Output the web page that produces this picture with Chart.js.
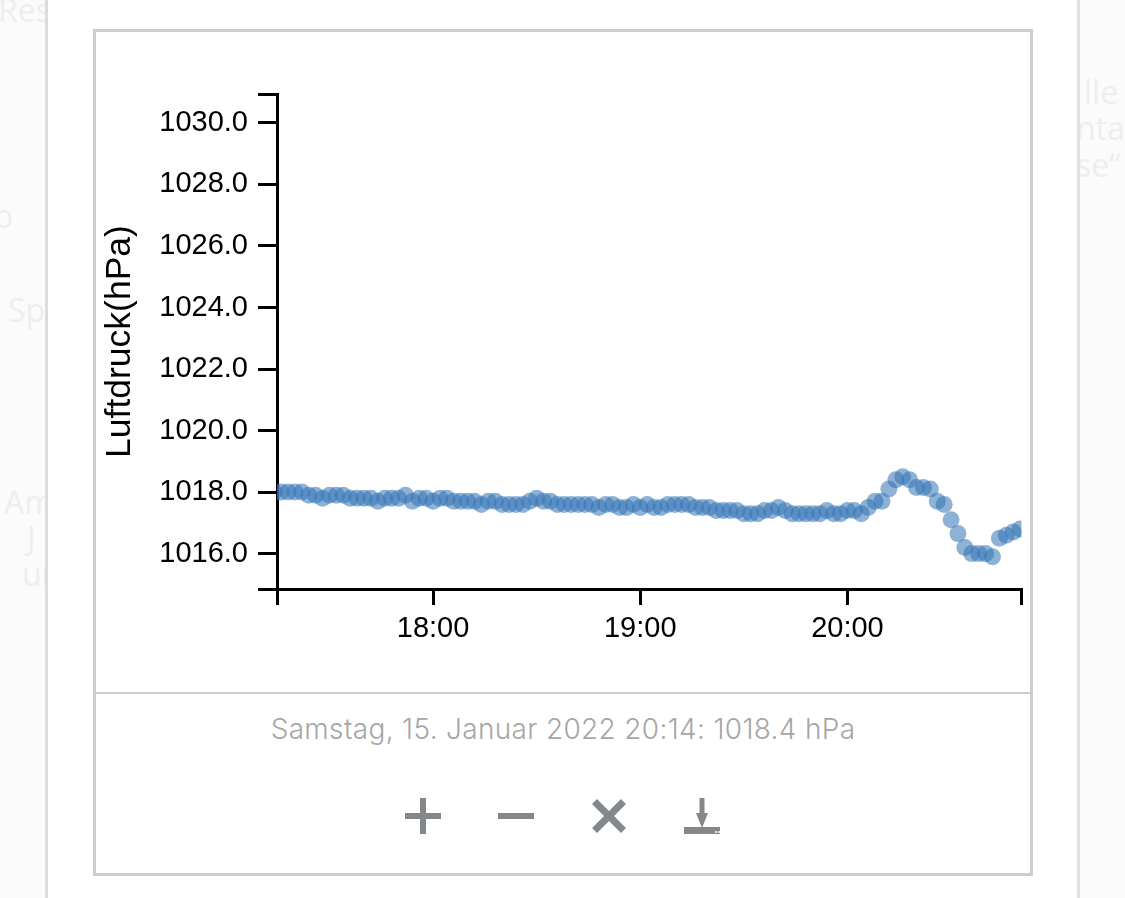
<!DOCTYPE html>
<html lang="de">
<head>
<meta charset="utf-8">
<title>Luftdruck</title>
<script src="https://cdn.jsdelivr.net/npm/chart.js@4"></script>
<style>
    html, body { margin: 0; padding: 0; width: 1125px; height: 898px; overflow: hidden; background: #fbfbfb; font-family: "Liberation Sans", Arial, sans-serif; }
    .bg { position: absolute; color: #eeeeee; font-family: "Open Sans", sans-serif; font-size: 32px; line-height: 36px; white-space: pre; }
    #column { position: absolute; left: 45px; top: 0; width: 1029px; height: 898px; background: #fff; border-left: 3px solid #dcdcdc; border-right: 3px solid #e2e2e2; box-sizing: content-box; }
    #box { position: absolute; left: 93px; top: 29px; width: 934px; height: 841px; border: 3px solid #cdcdcd; background: #fff; }
    #chartWrap { position: absolute; left: 96px; top: 32px; width: 934px; height: 660px; }
    #sep { position: absolute; left: 96px; top: 692px; width: 934px; height: 2px; background: #cdcdcd; }
    #caption { position: absolute; left: 96px; top: 712px; width: 934px; text-align: center; color: #a6a6a6; letter-spacing: 0.33px; font: 300 28px/34px Inter, "Liberation Sans", Arial, sans-serif; }
    #icons { position: absolute; left: 380px; top: 780px; }
</style>
</head>
<body>
<div class="bg" style="left:-2px;top:-8px">Res</div>
<div class="bg" style="left:-6px;top:198px">o</div>
<div class="bg" style="left:8px;top:292px">Sp</div>
<div class="bg" style="left:4px;top:484px">Am</div>
<div class="bg" style="left:27px;top:520px">J</div>
<div class="bg" style="left:22px;top:556px">ur</div>
<div class="bg" style="left:1084px;top:74px">lle</div>
<div class="bg" style="left:1076px;top:110px">ntar</div>
<div class="bg" style="left:1076px;top:147px">se“</div>
<div id="column"></div>
<div id="box"></div>
<div id="chartWrap"><canvas id="pressureChart" width="934" height="660"></canvas></div>
<div id="sep"></div>
<div id="caption">Samstag, 15. Januar 2022 20:14: 1018.4 hPa</div>
<svg id="icons" width="360" height="70" viewBox="0 0 360 70" fill="#85888b">
    <rect x="25" y="33" width="36" height="6"/>
    <rect x="40" y="18" width="6" height="36"/>
    <rect x="118" y="33" width="36" height="6"/>
    <path d="M212 24 L217 19 L229 31 L241 19 L246 24 L234 36 L246 48 L241 53 L229 41 L217 53 L212 48 L224 36 Z"/>
    <rect x="319.5" y="18" width="5" height="16"/>
    <path d="M316 33 L328 33 L322 48 Z"/>
    <rect x="304" y="47" width="36" height="7"/>
    <rect x="335" y="51" width="2" height="2" fill="#e6e6e6"/>
    <rect x="338" y="51" width="2" height="2" fill="#e6e6e6"/>
</svg>

<script>
// 横轴时间，每两分钟一个点
const times = [
    '17:14', '17:16', '17:18', '17:20', '17:22', '17:24', '17:26', '17:28', '17:30', '17:32', '17:34', '17:36', '17:38', '17:40', '17:42', '17:44', '17:46', '17:48', '17:50', '17:52', '17:54', '17:56', '17:58',
    '18:00', '18:02', '18:04', '18:06', '18:08', '18:10', '18:12', '18:14', '18:16', '18:18', '18:20', '18:22', '18:24', '18:26', '18:28', '18:30', '18:32', '18:34', '18:36', '18:38', '18:40', '18:42', '18:44', '18:46', '18:48', '18:50', '18:52', '18:54', '18:56', '18:58',
    '19:00', '19:02', '19:04', '19:06', '19:08', '19:10', '19:12', '19:14', '19:16', '19:18', '19:20', '19:22', '19:24', '19:26', '19:28', '19:30', '19:32', '19:34', '19:36', '19:38', '19:40', '19:42', '19:44', '19:46', '19:48', '19:50', '19:52', '19:54', '19:56', '19:58',
    '20:00', '20:02', '20:04', '20:06', '20:08', '20:10', '20:12', '20:14', '20:16', '20:18', '20:20', '20:22', '20:24', '20:26', '20:28', '20:30', '20:32', '20:34', '20:36', '20:38', '20:40', '20:42', '20:44', '20:46', '20:48', '20:50'
];
const pressure = [
    1018.0, 1018.0, 1018.0, 1018.0, 1018.0, 1017.9, 1017.9, 1017.8, 1017.9, 1017.9, 1017.9, 1017.8, 1017.8, 1017.8, 1017.8, 1017.7, 1017.8, 1017.8, 1017.8, 1017.9, 1017.7, 1017.8, 1017.8,
    1017.7, 1017.8, 1017.8, 1017.7, 1017.7, 1017.7, 1017.7, 1017.6, 1017.7, 1017.7, 1017.6, 1017.6, 1017.6, 1017.6, 1017.7, 1017.8, 1017.7, 1017.7, 1017.6, 1017.6, 1017.6, 1017.6, 1017.6, 1017.6, 1017.5, 1017.6, 1017.6, 1017.5, 1017.5, 1017.6,
    1017.5, 1017.6, 1017.5, 1017.5, 1017.6, 1017.6, 1017.6, 1017.6, 1017.5, 1017.5, 1017.5, 1017.4, 1017.4, 1017.4, 1017.4, 1017.3, 1017.3, 1017.3, 1017.4, 1017.4, 1017.5, 1017.4, 1017.3, 1017.3, 1017.3, 1017.3, 1017.3, 1017.4, 1017.3, 1017.3,
    1017.4, 1017.4, 1017.3, 1017.5, 1017.7, 1017.7, 1018.1, 1018.4, 1018.5, 1018.4, 1018.15, 1018.15, 1018.1, 1017.7, 1017.6, 1017.1, 1016.65, 1016.2, 1016.0, 1016.0, 1016.0, 1015.9, 1016.5, 1016.6, 1016.7, 1016.8
];
const yTicks = [1016, 1018, 1020, 1022, 1024, 1026, 1028, 1030];
const xTicks = ['18:00', '19:00', '20:00'];
const yRange = [1014.85, 1030.94];
const xRange = ['17:14.8', '20:50.4'];

function toMinutes(t) {
    const parts = t.split(':');
    return parseInt(parts[0]) * 60 + parseFloat(parts[1]);
}

function toLabel(m) {
    const h = Math.floor(m / 60);
    const min = Math.round(m - h * 60);
    return h + ':' + String(min).padStart(2, '0');
}

const xMin = toMinutes(xRange[0]);
const xMax = toMinutes(xRange[1]);
const axisFont = { family: '"Liberation Sans", Arial, sans-serif', size: 29 };

new Chart(document.getElementById('pressureChart').getContext('2d'), {
    type: 'scatter',
    data: {
        datasets: [{
            data: times.map((t, i) => ({ x: toMinutes(t), y: pressure[i] })),
            backgroundColor: 'rgba(50,115,180,0.55)',
            borderWidth: 0,
            pointRadius: 8.5,
            clip: 0
        }]
    },
    options: {
        responsive: false,
        animation: false,
        layout: { padding: { top: 62, right: 8, left: 0, bottom: 0 } },
        plugins: { legend: { display: false }, tooltip: { enabled: false } },
        scales: {
            x: {
                type: 'linear',
                min: xMin,
                max: xMax,
                afterBuildTicks: axis => {
                    // 两端也画刻度，但不写文字
                    axis.ticks = [xMin].concat(xTicks.map(toMinutes), [xMax]).map(v => ({ value: v }));
                },
                afterFit: axis => { axis.height = 103; },
                ticks: {
                    autoSkip: false,
                    maxRotation: 0,
                    color: '#000',
                    font: axisFont,
                    padding: 7,
                    callback: v => (v === xMin || v === xMax) ? '' : toLabel(v)
                },
                grid: { drawOnChartArea: false, color: '#000', lineWidth: 3, tickLength: 16 },
                border: { color: '#000', width: 3 }
            },
            y: {
                min: yRange[0],
                max: yRange[1],
                afterBuildTicks: axis => {
                    axis.ticks = [yRange[0]].concat(yTicks, [yRange[1]]).map(v => ({ value: v }));
                },
                afterFit: axis => { axis.width = 181; },
                title: {
                    display: true,
                    text: 'Luftdruck(hPa)',
                    color: '#000',
                    font: { family: '"Liberation Sans", Arial, sans-serif', size: 35.5 },
                    padding: { top: 3, bottom: 0 }
                },
                ticks: {
                    autoSkip: false,
                    color: '#000',
                    font: axisFont,
                    padding: 10,
                    callback: v => yTicks.includes(v) ? v.toFixed(1) : ''
                },
                grid: { drawOnChartArea: false, color: '#000', lineWidth: 3, tickLength: 19 },
                border: { color: '#000', width: 3 }
            }
        }
    }
});
</script>
</body>
</html>
